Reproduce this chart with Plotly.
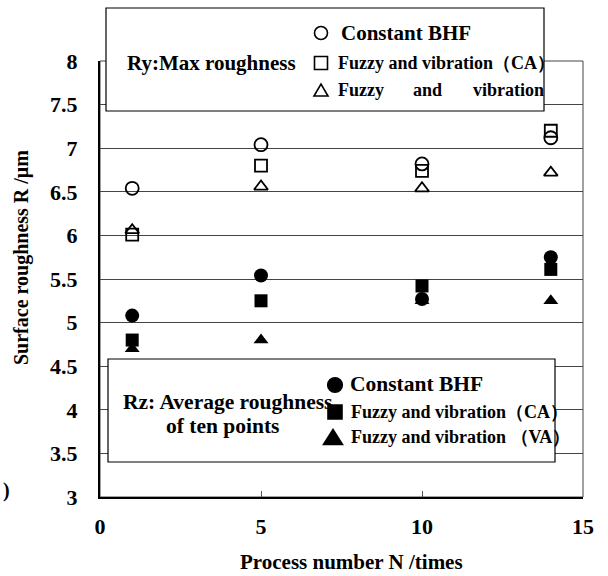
import plotly.graph_objects as go

# ---- data ----
process_n = [1, 5, 10, 14]
ry_constant = [6.54, 7.04, 6.82, 7.12]
ry_fuzzy_ca = [6.01, 6.80, 6.74, 7.20]
ry_fuzzy_va = [6.06, 6.56, 6.54, 6.72]
rz_constant = [5.08, 5.54, 5.27, 5.75]
rz_fuzzy_ca = [4.80, 5.25, 5.42, 5.61]
rz_fuzzy_va = [4.70, 4.80, 5.25, 5.25]

x_ticks = [0, 5, 10, 15]
y_ticks = [3, 3.5, 4, 4.5, 5, 5.5, 6, 6.5, 7, 7.5, 8]
y_tick_text = ["3", "3.5", "4", "4.5", "5", "5.5", "6", "6.5", "7", "7.5", "8"]

FONT = "Liberation Serif, Times New Roman, serif"
W, H = 608, 576
L, R, T, B = 100, 583, 61, 497


def px(x):
    return (x - L) / (R - L)


def py(y):
    return (B - y) / (B - T)


fig = go.Figure()

series = [
    (ry_constant, "circle-open", 13, 1.8),
    (ry_fuzzy_ca, "square-open", 12, 1.8),
    (ry_fuzzy_va, "triangle-up-open", 12, 1.8),
    (rz_constant, "circle", 14, 0),
    (rz_fuzzy_ca, "square", 13, 0),
    (rz_fuzzy_va, "triangle-up", 13, 0),
]
for vals, sym, size, lw in series:
    fig.add_trace(go.Scatter(
        x=process_n, y=vals, mode="markers",
        marker=dict(symbol=sym, size=size, color="black",
                    line=dict(color="black", width=lw)),
        showlegend=False, cliponaxis=False,
    ))

shapes = []
# frame
shapes.append(dict(type="rect", xref="paper", yref="paper", x0=0, x1=1, y0=0, y1=1,
                   line=dict(color="#444", width=1), layer="below"))
# legend boxes
shapes.append(dict(type="rect", xref="paper", yref="paper",
                   x0=px(106), x1=px(544), y0=py(111), y1=py(8),
                   fillcolor="white", line=dict(color="black", width=1.2), layer="above"))
shapes.append(dict(type="rect", xref="paper", yref="paper",
                   x0=px(108), x1=px(555), y0=py(462), y1=py(359),
                   fillcolor="white", line=dict(color="black", width=1.2), layer="above"))


def circ(cx, cy, r, filled):
    return dict(type="circle", xref="paper", yref="paper",
                x0=px(cx - r), x1=px(cx + r), y0=py(cy + r), y1=py(cy - r),
                fillcolor="black" if filled else "white",
                line=dict(color="black", width=1.6), layer="above")


def sq(cx, cy, r, filled):
    return dict(type="rect", xref="paper", yref="paper",
                x0=px(cx - r), x1=px(cx + r), y0=py(cy + r), y1=py(cy - r),
                fillcolor="black" if filled else "white",
                line=dict(color="black", width=1.6), layer="above")


def tri(cx, cy, w, h, filled):
    path = "M {} {} L {} {} L {} {} Z".format(
        px(cx - w / 2), py(cy + h / 2), px(cx + w / 2), py(cy + h / 2), px(cx), py(cy - h / 2))
    return dict(type="path", xref="paper", yref="paper", path=path,
                fillcolor="black" if filled else "white",
                line=dict(color="black", width=1.6), layer="above")


shapes += [
    circ(321, 33, 6.5, False), sq(321, 63, 6.5, False), tri(321, 90, 14, 12, False),
    circ(335, 385, 7.3, True), sq(335, 412, 7, True), tri(333, 437, 19, 15, True),
]

ann = []


def text(t, x, y, size, anchor="left"):
    ann.append(dict(text=t, x=px(x), y=py(y), xref="paper", yref="paper",
                    xanchor=anchor, yanchor="middle", showarrow=False,
                    font=dict(family=FONT, size=size, color="black")))


text("<b>Ry:Max roughness</b>", 125, 63, 21)
text("<b>Constant BHF</b>", 339, 33, 21)
text("<b>Fuzzy and vibration（CA）</b>", 336, 63, 18)
text("<b>Fuzzy</b>", 336, 90, 18)
text("<b>and</b>", 427, 90, 18, "center")
text("<b>vibration</b>", 546, 90, 18, "right")

text("<b>Rz: Average roughness</b>", 121, 402, 21.5)
text("<b>of ten points</b>", 222, 426, 21.5, "center")
text("<b>Constant BHF</b>", 348, 384, 21.5)
text("<b>Fuzzy and vibration（CA）</b>", 349, 412, 18)
text("<b>Fuzzy and vibration （VA）</b>", 349, 437, 18)

# axis titles
text("<b>Process number N /times</b>", 351, 562, 21, "center")
ann.append(dict(text="<b>Surface roughness R /μm</b>", x=px(21), y=py(258),
                xref="paper", yref="paper", xanchor="center", yanchor="middle",
                textangle=-90, showarrow=False,
                font=dict(family=FONT, size=20, color="black")))
text("<b>)</b>", 1, 490, 20)

fig.update_layout(
    width=W, height=H,
    margin=dict(l=L, r=W - R, t=T, b=H - B, pad=0),
    plot_bgcolor="white", paper_bgcolor="white",
    shapes=shapes, annotations=ann,
    xaxis=dict(range=[0, 15], tickvals=x_ticks, ticktext=[str(v) for v in x_ticks],
               showgrid=False, zeroline=False, showline=True, linecolor="black", linewidth=2,
               ticks="inside", ticklen=6, tickcolor="#555", tickwidth=1,
               ticklabelstandoff=9,
               tickfont=dict(family=FONT, size=22, color="black", weight="bold")),
    yaxis=dict(range=[3, 8], tickvals=y_ticks, ticktext=y_tick_text,
               showgrid=True, gridcolor="#444", gridwidth=1, zeroline=False,
               showline=True, linecolor="black", linewidth=2, ticks="",
               ticklabelstandoff=16,
               tickfont=dict(family=FONT, size=22, color="black", weight="bold")),
)

fig.write_html("out.html")
